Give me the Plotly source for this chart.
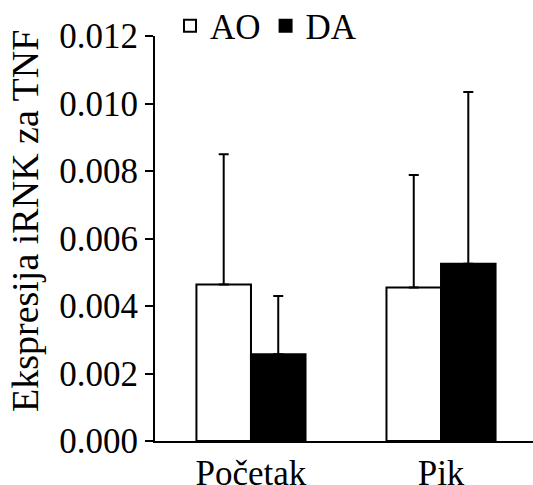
import plotly.graph_objects as go

categories = ["Početak", "Pik"]
ao_values = [0.00464, 0.00455]
ao_errors = [0.00386, 0.00333]
da_values = [0.00257, 0.00525]
da_errors = [0.00173, 0.00509]
y_ticks = [0.000, 0.002, 0.004, 0.006, 0.008, 0.010, 0.012]
y_title = "Ekspresija iRNK za TNF"

FONT = "Liberation Serif"

fig = go.Figure()
fig.add_trace(go.Bar(
    name="AO", x=categories, y=ao_values,
    marker=dict(color="white", line=dict(color="black", width=2)),
    error_y=dict(type="data", symmetric=False, array=ao_errors,
                 arrayminus=[0] * len(ao_errors),
                 color="black", thickness=2, width=5),
))
fig.add_trace(go.Bar(
    name="DA", x=categories, y=da_values,
    marker=dict(color="black", line=dict(color="black", width=2)),
    error_y=dict(type="data", symmetric=False, array=da_errors,
                 arrayminus=[0] * len(da_errors),
                 color="black", thickness=2, width=5),
))

fig.update_layout(
    width=533, height=485,
    margin=dict(l=155, r=0, t=36, b=44, autoexpand=False),
    paper_bgcolor="white", plot_bgcolor="white",
    font=dict(family=FONT, size=35, color="black"),
    barmode="group", bargap=0.426, bargroupgap=0,
    showlegend=True,
    legend=dict(orientation="h", xref="container", yref="container",
                x=0.319, y=1 - 26 / 485, xanchor="left", yanchor="middle",
                font=dict(family=FONT, size=35, color="black"),
                bgcolor="rgba(0,0,0,0)", borderwidth=0,
                tracegroupgap=0),
    xaxis=dict(range=[-0.505, 1.484], showline=True, linecolor="black",
               linewidth=2, ticks="", showgrid=False, zeroline=False,
               automargin=False,
               tickfont=dict(family=FONT, size=35, color="black")),
    yaxis=dict(range=[0, 0.012], tickvals=y_ticks,
               ticktext=[f"{v:.3f}" for v in y_ticks],
               showline=True, linecolor="black", linewidth=2,
               ticks="outside", ticklen=8, tickwidth=2, tickcolor="black",
               showgrid=False, zeroline=False, automargin=False,
               tickfont=dict(family=FONT, size=35, color="black")),
    annotations=[dict(text=y_title, textangle=-90, showarrow=False,
                      xref="paper", yref="paper",
                      x=(25 - 155) / 378, y=(441 - 221) / 405,
                      xanchor="center", yanchor="middle",
                      font=dict(family=FONT, size=38, color="black"))],
)

fig.write_html("out.html", config={"displayModeBar": False},
               post_script="document.body.style.margin='0';")
